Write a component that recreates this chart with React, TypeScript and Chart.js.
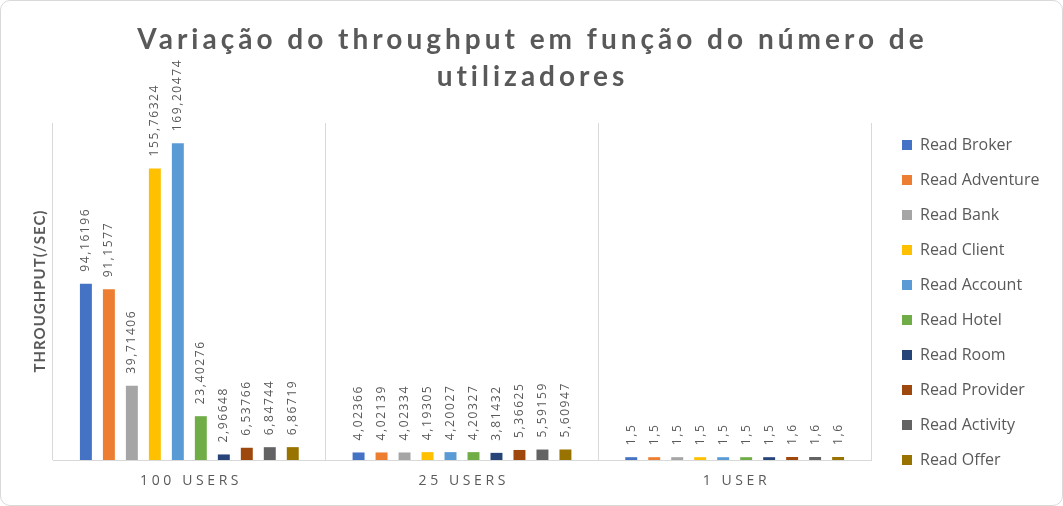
import React, { useEffect, useRef } from "react";
import { Chart, registerables } from "chart.js";

Chart.register(...registerables);

const titleLines = ["Variação do throughput em função do número de", "utilizadores"];
const yTitle = "THROUGHPUT(/SEC)";
const categories = ["100 USERS", "25 USERS", "1 USER"];
const seriesNames = [
  "Read Broker",
  "Read Adventure",
  "Read Bank",
  "Read Client",
  "Read Account",
  "Read Hotel",
  "Read Room",
  "Read Provider",
  "Read Activity",
  "Read Offer",
];
const readBroker = [94.16196, 4.02366, 1.5];
const readAdventure = [91.1577, 4.02139, 1.5];
const readBank = [39.71406, 4.02334, 1.5];
const readClient = [155.76324, 4.19305, 1.5];
const readAccount = [169.20474, 4.20027, 1.5];
const readHotel = [23.40276, 4.20327, 1.5];
const readRoom = [2.96648, 3.81432, 1.5];
const readProvider = [6.53766, 5.36625, 1.6];
const readActivity = [6.84744, 5.59159, 1.6];
const readOffer = [6.86719, 5.60947, 1.6];
const seriesValues = [
  readBroker,
  readAdventure,
  readBank,
  readClient,
  readAccount,
  readHotel,
  readRoom,
  readProvider,
  readActivity,
  readOffer,
];
const seriesColors = [
  "#4472C4",
  "#ED7D31",
  "#A5A5A5",
  "#FFC000",
  "#5B9BD5",
  "#70AD47",
  "#264478",
  "#9E480E",
  "#636363",
  "#997300",
];

const TITLE_FONT = "Lato, 'Open Sans', sans-serif";
const FONT = "'Open Sans', Lato, sans-serif";
const TEXT = "#595959";

const PLOT_RIGHT = 870;
const LEGEND_LEFT = 882;

const fmt = (v: number) => String(v).replace(".", ",");

const customText = {
  id: "customText",
  beforeDraw(chart: any) {
    const lg = chart.legend;
    if (lg) {
      lg.top = 117;
      lg.left = LEGEND_LEFT;
      lg.right = chart.width;
    }
  },
  afterDraw(chart: any) {
    const ctx = chart.ctx as CanvasRenderingContext2D;
    ctx.save();
    ctx.fillStyle = TEXT;
    ctx.textAlign = "center";
    ctx.textBaseline = "middle";
    // title
    ctx.font = `bold 28px ${TITLE_FONT}`;
    (ctx as any).letterSpacing = "4px";
    const cx = chart.width / 2 + 1;
    titleLines.forEach((t, i) => ctx.fillText(t, cx, 39 + i * 37));
    // y title
    ctx.save();
    ctx.translate(39, 290);
    ctx.rotate(-Math.PI / 2);
    ctx.font = `bold 15px ${TITLE_FONT}`;
    (ctx as any).letterSpacing = "1px";
    ctx.fillText(yTitle, 0, 0);
    ctx.restore();
    // x labels
    const xs = chart.scales.x;
    ctx.font = `14px ${FONT}`;
    (ctx as any).letterSpacing = "3.6px";
    categories.forEach((c, i) => ctx.fillText(c, xs.getPixelForValue(i) + 1.8, 480));
    // data labels
    ctx.font = `12px ${FONT}`;
    (ctx as any).letterSpacing = "1.6px";
    ctx.textAlign = "left";
    chart.data.datasets.forEach((ds: any, di: number) => {
      const meta = chart.getDatasetMeta(di);
      meta.data.forEach((bar: any, i: number) => {
        ctx.save();
        ctx.translate(bar.x, bar.y - 12);
        ctx.rotate(-Math.PI / 2);
        ctx.fillText(fmt(ds.data[i]), 0, 0);
        ctx.restore();
      });
    });
    ctx.restore();
  },
};

export default function App() {
  const ref = useRef<HTMLCanvasElement | null>(null);
  useEffect(() => {
    if (!ref.current) return;
    const chart = new Chart(ref.current, {
      type: "bar",
      data: {
        labels: categories,
        datasets: seriesNames.map((name, i) => ({
          label: name,
          data: seriesValues[i],
          backgroundColor: seriesColors[i],
          borderWidth: 0,
        })),
      },
      options: {
        responsive: true,
        maintainAspectRatio: false,
        animation: false,
        layout: { padding: { top: 122, left: 52, right: 0, bottom: 1 } },
        datasets: { bar: { categoryPercentage: 0.843, barPercentage: 0.52 } },
        plugins: {
          title: { display: false },
          tooltip: { enabled: false },
          legend: {
            position: "right",
            align: "start",
            labels: {
              boxWidth: 10,
              boxHeight: 10,
              padding: 19,
              color: TEXT,
              font: { family: FONT, size: 16 },
            },
          },
        },
        scales: {
          x: {
            grid: { offset: true, color: "#d9d9d9", drawTicks: false, tickLength: 0 },
            border: { color: "#d9d9d9" },
            ticks: { display: false },
            afterFit: (s: any) => {
              s.height = 44;
            },
          },
          y: { display: false, min: 0, max: 180 },
          y2: {
            type: "linear",
            position: "right",
            display: true,
            grid: { display: false },
            border: { display: false },
            ticks: { display: false },
            afterFit: (s: any) => {
              const lw = s.chart.legend ? s.chart.legend.width : 0;
              s.width = Math.max(0, s.chart.width - lw - PLOT_RIGHT);
            },
          },
        },
      } as any,
      plugins: [customText],
    });
    return () => chart.destroy();
  }, []);
  return (
    <div
      style={{
        position: "fixed",
        left: 0,
        top: 0,
        width: 1063,
        height: 506,
        boxSizing: "border-box",
        border: "1px solid #d9d9d9",
        borderRadius: 10,
        background: "#fff",
        overflow: "hidden",
      }}
    >
      <div style={{ position: "relative", width: "100%", height: "100%" }}>
        <canvas ref={ref} />
      </div>
    </div>
  );
}
